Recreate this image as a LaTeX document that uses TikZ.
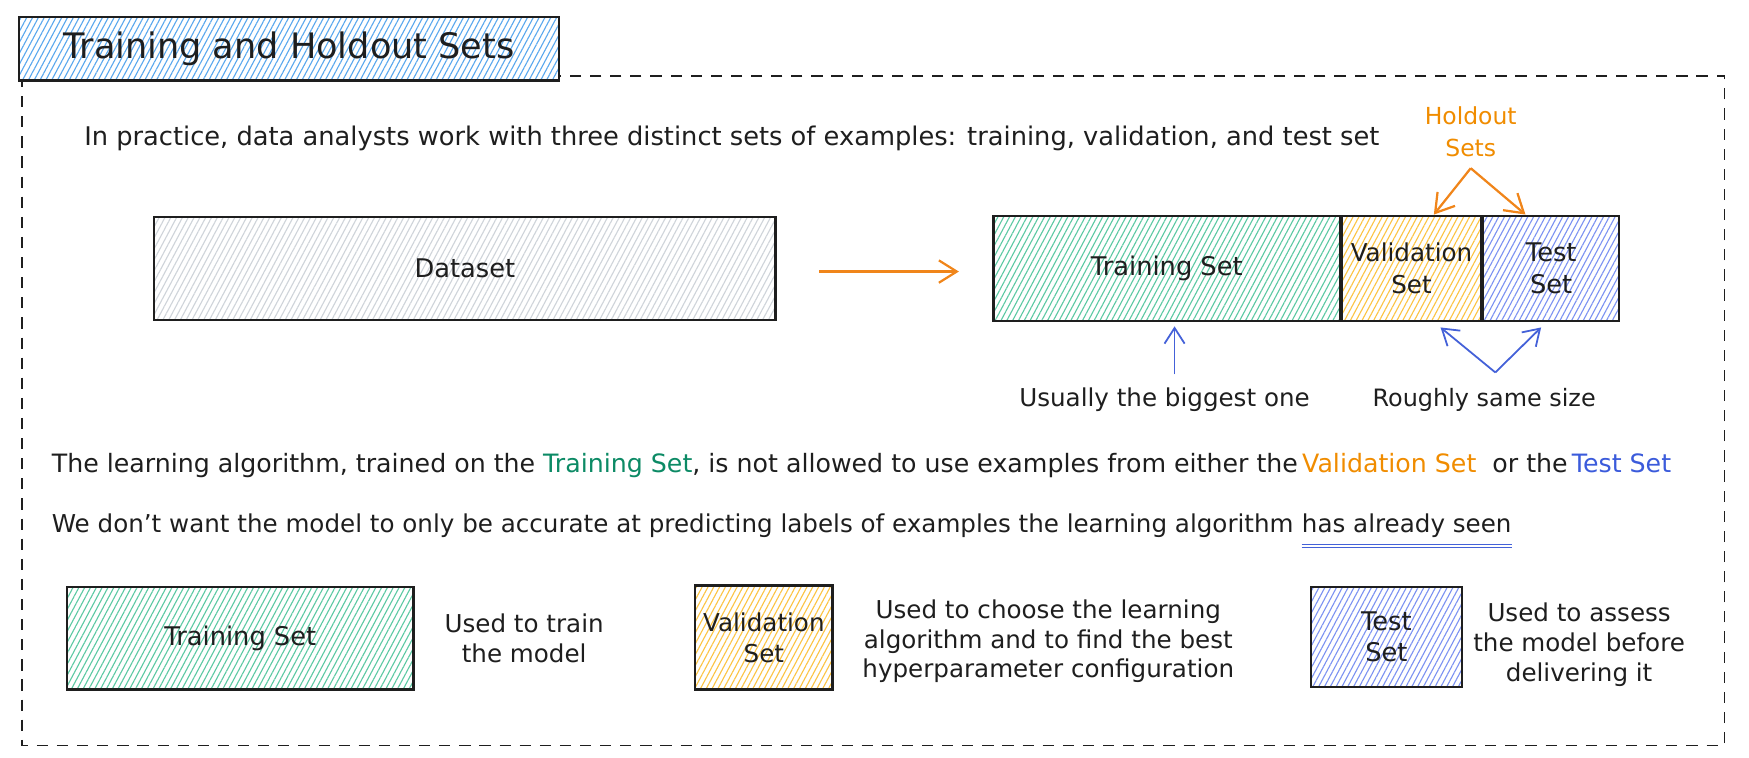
\documentclass[tikz,border=0pt]{standalone}
\usepackage{fontspec}
\setmainfont{DejaVu Sans}
\usetikzlibrary{patterns.meta,arrows.meta}
\definecolor{ink}{HTML}{1E1E1E}
\definecolor{cTitle}{HTML}{5AA8EE}
\definecolor{cGray}{HTML}{CFD4DA}
\definecolor{cGreen}{HTML}{5CC9A3}
\definecolor{cYellow}{HTML}{FCC444}
\definecolor{cBlue}{HTML}{7C92F2}
\definecolor{tGreen}{HTML}{0C8A65}
\definecolor{tOrange}{HTML}{F08C00}
\definecolor{tBlue}{HTML}{3B5BDB}
\definecolor{aOrange}{HTML}{F0851A}
\definecolor{aBlue}{HTML}{4461D8}
\tikzset{
  box/.style={draw=ink, line width=1pt, inner sep=0pt, align=center, text=ink,
    font=\fontsize{11.5}{14}\selectfont},
  hatch/.style={preaction={fill=white}, pattern={Lines[angle=62,distance=2.3pt,line width=0.5pt]}, pattern color=#1},
  txt/.style={inner sep=0pt, text=ink, align=center, font=\fontsize{11}{13.3}\selectfont},
  oarrow/.style={draw=aOrange, line width=1pt, -{Straight Barb[length=8pt,width=10pt,line width=1pt]}},
  barrow/.style={draw=aBlue, line width=0.8pt, -{Straight Barb[length=7pt,width=9pt,line width=0.8pt]}},
  frame/.style={draw=ink, line width=0.8pt, dash pattern=on 5pt off 4pt}
}
\begin{document}
\begin{tikzpicture}[x=0.5pt,y=-0.5pt]
\useasboundingbox (0,0) rectangle (1565,678);
% outer dashed frame
\draw[frame] (20,68) rectangle (1543,667);
% title
\node[box, hatch=cTitle, minimum width=241.5pt, minimum height=28.5pt,
  font=\fontsize{15.7}{19}\selectfont] (title) at (258.5,43.5) {Training and Holdout Sets};
% intro
\node[txt, anchor=west, font=\fontsize{11.5}{13.3}\selectfont] (intro) at (75,124) {In practice, data analysts work with three distinct sets of examples: training, validation, and test set};
% holdout label
\node[txt, text=tOrange, font=\fontsize{10.5}{14}\selectfont] (hold) at (1316,118) {Holdout\\Sets};
% top boxes
\node[box, hatch=cGray, minimum width=278pt, minimum height=46pt] (ds) at (416,240) {Dataset};
\node[box, hatch=cGreen, minimum width=155pt, minimum height=47pt] (tr) at (1044,240) {Training Set};
\node[box, hatch=cYellow, minimum width=62pt, minimum height=47pt, anchor=west, font=\fontsize{11}{14}\selectfont] (val) at (tr.east) {Validation\\Set};
\node[box, hatch=cBlue, minimum width=61pt, minimum height=47pt, anchor=west] (test) at (val.east) {Test\\Set};
% arrows top
\draw[oarrow] ([xshift=19pt,yshift=-1.5pt]ds.east) -- ([xshift=-15pt,yshift=-1.5pt]tr.west);
\coordinate (hapex) at ([yshift=-5pt]hold.south);
\draw[oarrow] (hapex) -- ([xshift=10pt]val.north);
\draw[oarrow] (hapex) -- ([xshift=-11.5pt]test.north);
% labels below
\node[txt] (usual) at (1042,358) {Usually the biggest one};
\node[txt, font=\fontsize{10.7}{13.3}\selectfont] (rough) at (1328,358) {Roughly same size};
\draw[barrow] ([xshift=4.5pt,yshift=6pt]usual.north) -- ([xshift=3.5pt,yshift=-2pt]tr.south);
\coordinate (rapex) at ([xshift=5pt,yshift=7pt]rough.north);
\draw[barrow] (rapex) -- ([xshift=13pt,yshift=-2.5pt]val.south);
\draw[barrow] (rapex) -- ([xshift=-4.5pt,yshift=-2.5pt]test.south);
% sentences
\node[txt, anchor=west, font=\fontsize{11.3}{13.3}\selectfont] (learn) at (46,417) {The learning algorithm, trained on the \textcolor{tGreen}{Training Set}, is not allowed to use examples from either the\,\textcolor{tOrange}{Validation Set} \ or the\,\textcolor{tBlue}{Test Set}};
\node[txt, anchor=west] (want) at (46,470) {We don't want the model to only be accurate at predicting labels of examples the learning algorithm};
\node[txt, anchor=base west] (seen) at ([xshift=3.4pt]want.base east) {has already seen};
\draw[draw=aBlue, line width=0.7pt] ([yshift=-3pt]seen.south west) -- ([yshift=-3pt]seen.south east);
\draw[draw=aBlue, line width=0.5pt] ([yshift=-4.3pt]seen.south west) -- ([yshift=-4.3pt]seen.south east);
% bottom legend
\node[box, hatch=cGreen, minimum width=155pt, minimum height=46pt] (btr) at (215,571) {Training Set};
\node[txt] (btrtxt) at (469,571) {Used to train\\the model};
\node[box, hatch=cYellow, minimum width=61.5pt, minimum height=46.5pt, font=\fontsize{11}{14}\selectfont] (bval) at (683.5,570.5) {Validation\\Set};
\node[txt] (bvaltxt) at (938,574) {Used to choose the learning\\algorithm and to find the best\\hyperparameter configuration};
\node[box, hatch=cBlue, minimum width=67.5pt, minimum height=45pt] (btest) at (1240.5,570) {Test\\Set};
\node[txt] (btesttxt) at (1413,577) {Used to assess\\the model before\\delivering it};
\end{tikzpicture}
\end{document}
